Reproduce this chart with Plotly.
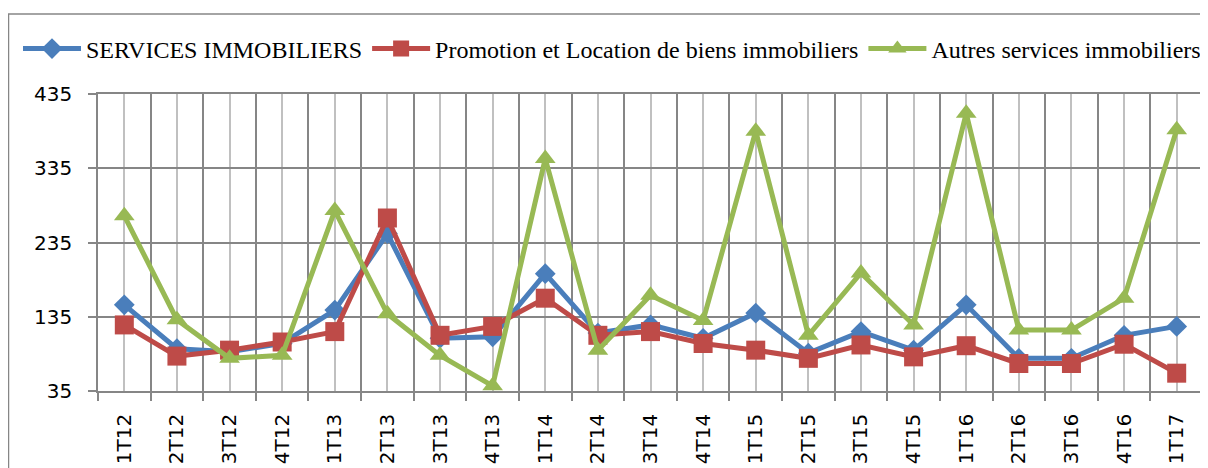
import plotly.graph_objects as go

categories = ["1T12", "2T12", "3T12", "4T12", "1T13", "2T13", "3T13", "4T13", "1T14", "2T14",
              "3T14", "4T14", "1T15", "2T15", "3T15", "4T15", "1T16", "2T16", "3T16", "4T16", "1T17"]
services = [151, 92, 88, 99, 144, 247, 106, 108, 193, 113, 124, 106, 140, 86, 115, 90, 151, 79, 79, 110, 122]
promotion = [124, 82, 90, 101, 115, 268, 110, 122, 160, 110, 115, 99, 90, 79, 97, 81, 96, 72, 72, 98, 59]
autres = [271, 131, 79, 83, 278, 139, 83, 42, 348, 90, 164, 130, 385, 110, 194, 124, 409, 117, 117, 160, 387]
y_ticks = [35, 135, 235, 335, 435]

names = ["SERVICES IMMOBILIERS", "Promotion et Location de biens immobiliers", "Autres services immobiliers"]
colors = ["#4A7EBB", "#BE4B48", "#98B954"]
symbols = ["diamond", "square", "triangle-up"]
sizes = [16, 19, 18]
series = [services, promotion, autres]

xidx = list(range(len(categories)))

fig = go.Figure()
for name, vals, c, s, sz in zip(names, series, colors, symbols, sizes):
    fig.add_trace(go.Scatter(
        x=xidx, y=vals, name=name, mode="lines+markers",
        line=dict(color=c, width=5),
        marker=dict(symbol=s, size=sz, color=c),
    ))

OFF = 8  # page body margin
W, H = 1200, 460
L, T = 98 - OFF, 94 - OFF
PR, PB = 1203 - OFF, 391 - OFF
R, B = W - PR, H - PB
pw, ph = PR - L, PB - T

def px_x(px):
    return (px - OFF - L) / pw

def px_y(py):
    return (PB - (py - OFF)) / ph

fig.add_shape(type="rect", xref="paper", yref="paper",
              x0=px_x(8.5), x1=px_x(1205),
              y0=px_y(480), y1=px_y(14),
              line=dict(color="#868686", width=1.5), layer="below")

fig.update_layout(
    width=W, height=H,
    margin=dict(l=L, r=R, t=T, b=B, autoexpand=False),
    paper_bgcolor="white", plot_bgcolor="white",
    showlegend=True,
    legend=dict(orientation="h", x=px_x(18), xanchor="left",
                y=px_y(49), yanchor="middle",
                font=dict(family="Liberation Serif", size=24, color="black"),
                itemwidth=58, tracegroupgap=0, bgcolor="rgba(0,0,0,0)"),
    xaxis=dict(
        range=[-0.5, len(categories) - 0.5],
        tickmode="array", tickvals=xidx, ticktext=categories,
        tickangle=-90, ticks="", automargin=False,
        tickfont=dict(family="DejaVu Sans", size=20, color="black"),
        showgrid=True, gridcolor="#C0C0C0", gridwidth=1.5,
        minor=dict(tickvals=[i - 0.5 for i in range(len(categories) + 1)],
                   showgrid=True, gridcolor="#868686", gridwidth=1.5,
                   ticks="outside", ticklen=8, tickcolor="#868686", tickwidth=1.5),
        showline=True, linecolor="#868686", linewidth=1.5, mirror=True,
        zeroline=False, ticklabelstandoff=13,
    ),
    yaxis=dict(
        range=[35, 435], tickmode="array", tickvals=y_ticks,
        ticktext=[str(v) for v in y_ticks], automargin=False,
        tickfont=dict(family="DejaVu Sans", size=20, color="black"),
        showgrid=True, gridcolor="#868686", gridwidth=1.5,
        ticks="outside", ticklen=8, tickcolor="#868686", tickwidth=1.5,
        showline=True, linecolor="#868686", linewidth=1.5, mirror=True,
        zeroline=False, ticklabelstandoff=12,
    ),
)

fig.write_html("out.html")
